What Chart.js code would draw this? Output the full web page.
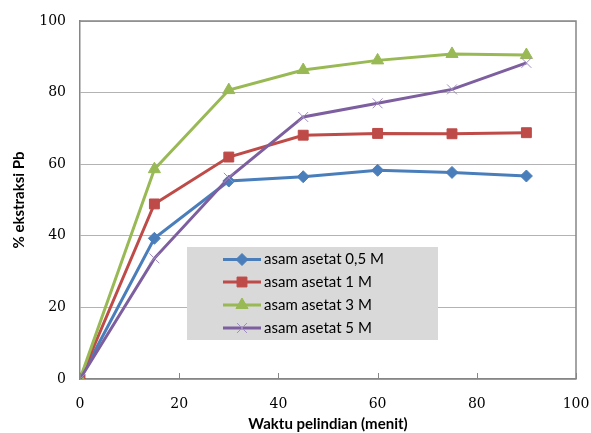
<!DOCTYPE html>
<html><head><meta charset="utf-8">
<script src="https://cdn.jsdelivr.net/npm/chart.js@4/dist/chart.umd.min.js"></script>
<style>html,body{margin:0;padding:0;background:#fff}#w{width:591px;height:433px;position:relative}</style>
</head><body><div id="w"><canvas id="c"></canvas></div>
<script>
const times = [0, 15, 30, 45, 60, 75, 90];
const seriesLabels = ["asam asetat 0,5 M", "asam asetat 1 M", "asam asetat 3 M", "asam asetat 5 M"];
const s05 = [0, 39.3, 55.3, 56.5, 58.3, 57.7, 56.7];
const s1  = [0, 48.9, 62.0, 68.1, 68.6, 68.5, 68.8];
const s3  = [0, 58.6, 80.7, 86.3, 89.0, 90.8, 90.5];
const s5  = [0, 33.7, 56.2, 73.2, 77.0, 80.9, 88.3];
const xTicks = [0, 20, 40, 60, 80, 100];
const yTicks = [0, 20, 40, 60, 80, 100];

const colors = ["#4a7ebb", "#be4b48", "#98b954", "#7d5fa0"];
const markerColors = ["#4a7ebb", "#be4b48", "#98b954", "#a08cc0"];
const styles = ["rectRot", "rect", "triangle", "crossRot"];
const radii = [6, 7, 7, 7];
const values = [s05, s1, s3, s5];

const datasets = values.map((v, i) => ({
  label: seriesLabels[i],
  data: times.map((t, k) => ({x: t, y: v[k]})),
  borderColor: colors[i],
  backgroundColor: markerColors[i],
  pointBorderColor: markerColors[i],
  pointBackgroundColor: markerColors[i],
  pointStyle: styles[i],
  pointRadius: radii[i],
  pointBorderWidth: 1,
  borderWidth: 3,
  tension: 0,
  order: 3 - i
}));

const frame = {
  id: 'frame',
  afterDraw(chart) {
    const {ctx, chartArea: a, scales} = chart;
    ctx.save();
    ctx.strokeStyle = '#868686';
    ctx.lineWidth = 1.5;
    ctx.beginPath();
    ctx.moveTo(a.left, a.top); ctx.lineTo(a.right, a.top); ctx.lineTo(a.right, a.bottom);
    ctx.stroke();
    ctx.lineWidth = 1;
    xTicks.forEach(t => {
      const px = Math.round(scales.x.getPixelForValue(t)) + 0.5;
      ctx.beginPath(); ctx.moveTo(px, a.bottom); ctx.lineTo(px, a.bottom - 6); ctx.stroke();
    });
    const bx = 187, by = 247, bw = 251, bh = 93;
    ctx.fillStyle = '#d9d9d9';
    ctx.fillRect(bx, by, bw, bh);
    const rows = [259.5, 282, 305, 328];
    chart.data.datasets.forEach((ds, i) => {
      const y = rows[i];
      ctx.strokeStyle = ds.borderColor;
      ctx.lineWidth = 3;
      ctx.beginPath(); ctx.moveTo(223, y); ctx.lineTo(261, y); ctx.stroke();
      ctx.fillStyle = ds.pointBackgroundColor; ctx.strokeStyle = ds.pointBorderColor;
      ctx.lineWidth = 1;
      Chart.helpers.drawPoint(ctx, {pointStyle: ds.pointStyle, radius: ds.pointRadius, rotation: 0, borderWidth: 1}, 242, y);
      ctx.fillStyle = '#000';
      ctx.font = '15px Lato, "Open Sans", sans-serif';
      ctx.textBaseline = 'middle';
      ctx.textAlign = 'left';
      ctx.fillText(ds.label, 264, y);
    });
    ctx.restore();
  }
};

new Chart(document.getElementById('c'), {
  type: 'line',
  data: {datasets},
  options: {
    responsive: true,
    maintainAspectRatio: false,
    animation: false,
    layout: {padding: {top: 21, right: 15, left: 0, bottom: 0}},
    plugins: {legend: {display: false}, tooltip: {enabled: false}},
    scales: {
      x: {
        type: 'linear', min: 0, max: 100,
        afterBuildTicks: s => { s.ticks = xTicks.map(v => ({value: v})); },
        afterFit: s => { s.height = 54; s.paddingRight = 0; s.paddingLeft = 0; },
        grid: {display: false},
        border: {color: '#868686', width: 1.5},
        ticks: {color: '#000', padding: 9, font: {family: '"DejaVu Serif", serif', size: 14}},
        title: {display: true, text: 'Waktu pelindian (menit)', color: '#000', padding: {top: 0, bottom: 0},
          font: {family: 'Lato, "Open Sans", sans-serif', size: 15, weight: 'bold'}}
      },
      y: {
        min: 0, max: 100,
        afterBuildTicks: s => { s.ticks = yTicks.map(v => ({value: v})); },
        afterFit: s => { s.width = 80; s.paddingTop = 0; s.paddingBottom = 0; },
        grid: {color: '#b3b3b3', drawTicks: false, lineWidth: 1},
        border: {color: '#868686', width: 1.5},
        ticks: {color: '#000', padding: 14, font: {family: '"DejaVu Serif", serif', size: 14}},
        title: {display: true, text: '% ekstraksi Pb', color: '#000', padding: {top: 10, bottom: 4},
          font: {family: 'Lato, "Open Sans", sans-serif', size: 15, weight: 'bold'}}
      }
    }
  },
  plugins: [frame]
});
</script></body></html>
